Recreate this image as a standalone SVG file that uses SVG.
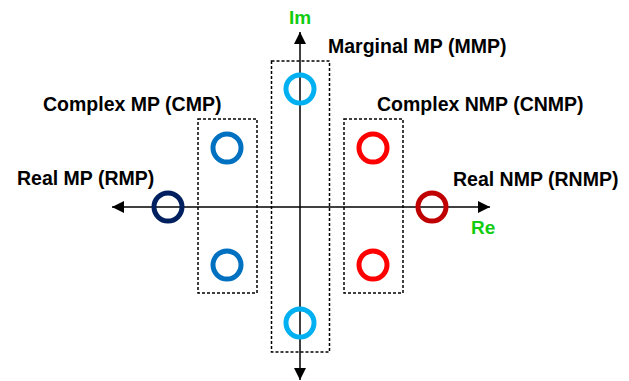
<svg xmlns="http://www.w3.org/2000/svg" width="629" height="381" viewBox="0 0 629 381">
<defs>
<marker id="arr" viewBox="0 0 12 12" refX="12" refY="6" markerWidth="12" markerHeight="12" markerUnits="userSpaceOnUse" orient="auto">
<path d="M0,0 L12,6 L0,12 Z" fill="#000"/>
</marker>
</defs>
<style>
.lbl{font-family:"Liberation Sans",Arial,sans-serif;font-weight:bold;font-size:19.5px;fill:#000}
.ax{font-family:"Liberation Sans",Arial,sans-serif;font-weight:bold;font-size:19px;fill:#11CC11}
.box{fill:none;stroke:#000;stroke-width:1.5;stroke-dasharray:3 2}
.axis{stroke:#000;stroke-width:1.5;fill:none}
.pole{fill:none;stroke-width:5}
</style>
<rect width="629" height="381" fill="#fff"/>
<g id="connectors">
<line class="axis" x1="300" y1="207" x2="112" y2="207" marker-end="url(#arr)"/>
<line class="axis" x1="300" y1="207" x2="490" y2="207" marker-end="url(#arr)"/>
<line class="axis" x1="300" y1="207" x2="300" y2="32" marker-end="url(#arr)"/>
<line class="axis" x1="300" y1="207" x2="300" y2="380" marker-end="url(#arr)"/>
</g>
<g id="axis-labels">
<text class="ax" x="289" y="24">Im</text>
<text class="ax" x="471" y="234">Re</text>
</g>
<g id="mmp">
<rect class="box" x="271.5" y="61" width="58" height="291"/>
<circle class="pole" cx="300" cy="89" r="14" stroke="#00B0F0"/>
<circle class="pole" cx="300" cy="323" r="14" stroke="#00B0F0"/>
<text class="lbl" x="328" y="53">Marginal MP (MMP)</text>
</g>
<g id="cmp">
<rect class="box" x="198" y="119" width="59" height="174"/>
<circle class="pole" cx="227" cy="148" r="14" stroke="#0070C0"/>
<circle class="pole" cx="227" cy="265" r="14" stroke="#0070C0"/>
<text class="lbl" x="43" y="111">Complex MP (CMP)</text>
</g>
<g id="cnmp">
<rect class="box" x="344" y="119" width="59" height="174"/>
<circle class="pole" cx="373" cy="148" r="14" stroke="#FF0000"/>
<circle class="pole" cx="373" cy="265" r="14" stroke="#FF0000"/>
<text class="lbl" x="377" y="111">Complex NMP (CNMP)</text>
</g>
<g id="rmp">
<circle class="pole" cx="168" cy="207" r="14" stroke="#002060"/>
<text class="lbl" x="17" y="185">Real MP (RMP)</text>
</g>
<g id="rnmp">
<circle class="pole" cx="432" cy="207" r="14" stroke="#C00000"/>
<text class="lbl" x="453" y="186">Real NMP (RNMP)</text>
</g>
</svg>
